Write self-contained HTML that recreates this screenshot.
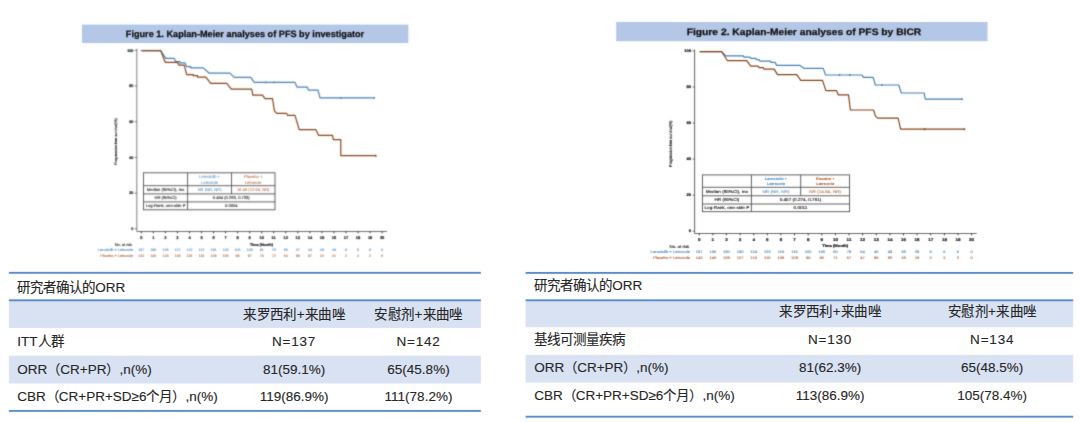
<!DOCTYPE html>
<html lang="zh-CN"><head><meta charset="utf-8"><title>PFS</title>
<style>
html,body{margin:0;padding:0;background:#fff;}
body{width:1080px;height:422px;position:relative;overflow:hidden;font-family:"Liberation Sans",sans-serif;}
svg{position:absolute;left:0;top:0;}
svg text{font-family:"Liberation Sans",sans-serif;text-rendering:geometricPrecision;}
.ln{position:absolute;height:1.8px;background:#5486c2;z-index:2;}
.bg{position:absolute;background:#d9e2f3;}
.t{position:absolute;height:20px;line-height:20px;font-size:13.5px;color:#262626;white-space:nowrap;-webkit-text-stroke:0.12px #262626;}
.t.c{width:160px;text-align:center;}
.t.h{letter-spacing:0.35px;}
.t.n{letter-spacing:0.8px;}
</style></head><body>
<svg width="1080" height="422" viewBox="0 0 1080 422">
<defs><filter id="bl" filterUnits="userSpaceOnUse" x="0" y="0" width="1080" height="422" color-interpolation-filters="sRGB"><feConvolveMatrix order="5" kernelMatrix="0.0000 0.0004 0.0017 0.0004 0.0000 0.0004 0.0274 0.1099 0.0274 0.0004 0.0017 0.1099 0.4407 0.1099 0.0017 0.0004 0.0274 0.1099 0.0274 0.0004 0.0000 0.0004 0.0017 0.0004 0.0000" preserveAlpha="false" edgeMode="none"/></filter><filter id="bl2" filterUnits="userSpaceOnUse" x="0" y="0" width="1080" height="422" color-interpolation-filters="sRGB"><feConvolveMatrix order="5" kernelMatrix="0.0000 0.0001 0.0007 0.0001 0.0000 0.0001 0.0191 0.0997 0.0191 0.0001 0.0007 0.0997 0.5208 0.0997 0.0007 0.0001 0.0191 0.0997 0.0191 0.0001 0.0000 0.0001 0.0007 0.0001 0.0000" preserveAlpha="false" edgeMode="none"/></filter><filter id="bl4" filterUnits="userSpaceOnUse" x="0" y="0" width="1080" height="422" color-interpolation-filters="sRGB"><feConvolveMatrix order="3" kernelMatrix="0.0052 0.0619 0.0052 0.0619 0.7314 0.0619 0.0052 0.0619 0.0052" preserveAlpha="false" edgeMode="none"/></filter><filter id="bl5" filterUnits="userSpaceOnUse" x="0" y="0" width="1080" height="422" color-interpolation-filters="sRGB"><feConvolveMatrix order="5" kernelMatrix="0.0000 0.0001 0.0007 0.0001 0.0000 0.0001 0.0191 0.0997 0.0191 0.0001 0.0007 0.0997 0.5208 0.0997 0.0007 0.0001 0.0191 0.0997 0.0191 0.0001 0.0000 0.0001 0.0007 0.0001 0.0000" preserveAlpha="false" edgeMode="none"/></filter></defs>
<g filter="url(#bl4)">
<rect x="8.9" y="300.30" width="472.0" height="27.70" fill="#d9e2f3"/><rect x="8.9" y="355.70" width="472.0" height="27.80" fill="#d9e2f3"/><rect x="8.9" y="271.90" width="472.0" height="1.8" fill="#4f82c0"/><rect x="8.9" y="299.40" width="472.0" height="1.8" fill="#4f82c0"/><rect x="8.9" y="410.00" width="472.0" height="1.8" fill="#4f82c0"/><rect x="525.6" y="300.30" width="547.6" height="26.90" fill="#d9e2f3"/><rect x="525.6" y="354.90" width="547.6" height="27.70" fill="#d9e2f3"/><rect x="525.6" y="272.00" width="547.6" height="1.8" fill="#4f82c0"/><rect x="525.6" y="299.40" width="547.6" height="1.8" fill="#4f82c0"/><rect x="525.6" y="415.80" width="547.6" height="1.8" fill="#4f82c0"/>
</g>
<g filter="url(#bl2)">
<rect x="82" y="24.6" width="326.4" height="18.5" fill="#b4c7e7"/>
<text x="245" y="36.5" font-size="9.2" font-weight="bold" text-anchor="middle" fill="#111" stroke="#111" stroke-width="0.25" textLength="238.4" lengthAdjust="spacingAndGlyphs">Figure 1. Kaplan-Meier analyses of PFS by investigator</text>
<rect x="616.2" y="22" width="371.3" height="19.2" fill="#b4c7e7"/>
<text x="804" y="34.6" font-size="9.3" font-weight="bold" text-anchor="middle" fill="#111" stroke="#111" stroke-width="0.25" textLength="234.6" lengthAdjust="spacingAndGlyphs">Figure 2. Kaplan-Meier analyses of PFS by BICR</text>
</g>
<g filter="url(#bl)">
<line x1="136.8" y1="48.8" x2="136.8" y2="231.5" stroke="#8a8a8a" stroke-width="1.1"/>
<line x1="136.8" y1="231.5" x2="387" y2="231.5" stroke="#6e6e6e" stroke-width="1.1"/>
<line x1="134.60000000000002" y1="50.3" x2="136.8" y2="50.3" stroke="#444" stroke-width="0.7"/>
<text transform="translate(133.4,51.6) scale(1.0,1)" font-size="3.7" text-anchor="end" fill="#222" stroke="#222" stroke-width="0.2" font-weight="bold">100</text>
<line x1="134.60000000000002" y1="86.0" x2="136.8" y2="86.0" stroke="#444" stroke-width="0.7"/>
<text transform="translate(133.4,87.3) scale(1.0,1)" font-size="3.7" text-anchor="end" fill="#222" stroke="#222" stroke-width="0.2" font-weight="bold">80</text>
<line x1="134.60000000000002" y1="121.7" x2="136.8" y2="121.7" stroke="#444" stroke-width="0.7"/>
<text transform="translate(133.4,123.0) scale(1.0,1)" font-size="3.7" text-anchor="end" fill="#222" stroke="#222" stroke-width="0.2" font-weight="bold">60</text>
<line x1="134.60000000000002" y1="157.4" x2="136.8" y2="157.4" stroke="#444" stroke-width="0.7"/>
<text transform="translate(133.4,158.7) scale(1.0,1)" font-size="3.7" text-anchor="end" fill="#222" stroke="#222" stroke-width="0.2" font-weight="bold">40</text>
<line x1="134.60000000000002" y1="193.1" x2="136.8" y2="193.1" stroke="#444" stroke-width="0.7"/>
<text transform="translate(133.4,194.4) scale(1.0,1)" font-size="3.7" text-anchor="end" fill="#222" stroke="#222" stroke-width="0.2" font-weight="bold">20</text>
<line x1="134.60000000000002" y1="228.8" x2="136.8" y2="228.8" stroke="#444" stroke-width="0.7"/>
<text transform="translate(133.4,230.1) scale(1.0,1)" font-size="3.7" text-anchor="end" fill="#222" stroke="#222" stroke-width="0.2" font-weight="bold">0</text>
<line x1="141.3" y1="231.5" x2="141.3" y2="233.3" stroke="#222" stroke-width="0.9"/>
<text transform="translate(141.3,238.9) scale(1.0,1)" font-size="4.0" text-anchor="middle" fill="#222" stroke="#222" stroke-width="0.2" font-weight="bold">0</text>
<text transform="translate(141.3,251.3) scale(1.0,1)" font-size="3.6" text-anchor="middle" fill="#4f88c0" stroke="#4f88c0" stroke-width="0.1">137</text>
<text transform="translate(141.3,256.6) scale(1.0,1)" font-size="3.6" text-anchor="middle" fill="#b0643a" stroke="#b0643a" stroke-width="0.1">142</text>
<line x1="153.3" y1="231.5" x2="153.3" y2="233.3" stroke="#222" stroke-width="0.9"/>
<text transform="translate(153.3,238.9) scale(1.0,1)" font-size="4.0" text-anchor="middle" fill="#222" stroke="#222" stroke-width="0.2" font-weight="bold">1</text>
<text transform="translate(153.3,251.3) scale(1.0,1)" font-size="3.6" text-anchor="middle" fill="#4f88c0" stroke="#4f88c0" stroke-width="0.1">136</text>
<text transform="translate(153.3,256.6) scale(1.0,1)" font-size="3.6" text-anchor="middle" fill="#b0643a" stroke="#b0643a" stroke-width="0.1">140</text>
<line x1="165.4" y1="231.5" x2="165.4" y2="233.3" stroke="#222" stroke-width="0.9"/>
<text transform="translate(165.4,238.9) scale(1.0,1)" font-size="4.0" text-anchor="middle" fill="#222" stroke="#222" stroke-width="0.2" font-weight="bold">2</text>
<text transform="translate(165.4,251.3) scale(1.0,1)" font-size="3.6" text-anchor="middle" fill="#4f88c0" stroke="#4f88c0" stroke-width="0.1">129</text>
<text transform="translate(165.4,256.6) scale(1.0,1)" font-size="3.6" text-anchor="middle" fill="#b0643a" stroke="#b0643a" stroke-width="0.1">129</text>
<line x1="177.4" y1="231.5" x2="177.4" y2="233.3" stroke="#222" stroke-width="0.9"/>
<text transform="translate(177.4,238.9) scale(1.0,1)" font-size="4.0" text-anchor="middle" fill="#222" stroke="#222" stroke-width="0.2" font-weight="bold">3</text>
<text transform="translate(177.4,251.3) scale(1.0,1)" font-size="3.6" text-anchor="middle" fill="#4f88c0" stroke="#4f88c0" stroke-width="0.1">127</text>
<text transform="translate(177.4,256.6) scale(1.0,1)" font-size="3.6" text-anchor="middle" fill="#b0643a" stroke="#b0643a" stroke-width="0.1">128</text>
<line x1="189.5" y1="231.5" x2="189.5" y2="233.3" stroke="#222" stroke-width="0.9"/>
<text transform="translate(189.5,238.9) scale(1.0,1)" font-size="4.0" text-anchor="middle" fill="#222" stroke="#222" stroke-width="0.2" font-weight="bold">4</text>
<text transform="translate(189.5,251.3) scale(1.0,1)" font-size="3.6" text-anchor="middle" fill="#4f88c0" stroke="#4f88c0" stroke-width="0.1">122</text>
<text transform="translate(189.5,256.6) scale(1.0,1)" font-size="3.6" text-anchor="middle" fill="#b0643a" stroke="#b0643a" stroke-width="0.1">116</text>
<line x1="201.5" y1="231.5" x2="201.5" y2="233.3" stroke="#222" stroke-width="0.9"/>
<text transform="translate(201.5,238.9) scale(1.0,1)" font-size="4.0" text-anchor="middle" fill="#222" stroke="#222" stroke-width="0.2" font-weight="bold">5</text>
<text transform="translate(201.5,251.3) scale(1.0,1)" font-size="3.6" text-anchor="middle" fill="#4f88c0" stroke="#4f88c0" stroke-width="0.1">121</text>
<text transform="translate(201.5,256.6) scale(1.0,1)" font-size="3.6" text-anchor="middle" fill="#b0643a" stroke="#b0643a" stroke-width="0.1">116</text>
<line x1="213.5" y1="231.5" x2="213.5" y2="233.3" stroke="#222" stroke-width="0.9"/>
<text transform="translate(213.5,238.9) scale(1.0,1)" font-size="4.0" text-anchor="middle" fill="#222" stroke="#222" stroke-width="0.2" font-weight="bold">6</text>
<text transform="translate(213.5,251.3) scale(1.0,1)" font-size="3.6" text-anchor="middle" fill="#4f88c0" stroke="#4f88c0" stroke-width="0.1">116</text>
<text transform="translate(213.5,256.6) scale(1.0,1)" font-size="3.6" text-anchor="middle" fill="#b0643a" stroke="#b0643a" stroke-width="0.1">109</text>
<line x1="225.6" y1="231.5" x2="225.6" y2="233.3" stroke="#222" stroke-width="0.9"/>
<text transform="translate(225.6,238.9) scale(1.0,1)" font-size="4.0" text-anchor="middle" fill="#222" stroke="#222" stroke-width="0.2" font-weight="bold">7</text>
<text transform="translate(225.6,251.3) scale(1.0,1)" font-size="3.6" text-anchor="middle" fill="#4f88c0" stroke="#4f88c0" stroke-width="0.1">116</text>
<text transform="translate(225.6,256.6) scale(1.0,1)" font-size="3.6" text-anchor="middle" fill="#b0643a" stroke="#b0643a" stroke-width="0.1">106</text>
<line x1="237.6" y1="231.5" x2="237.6" y2="233.3" stroke="#222" stroke-width="0.9"/>
<text transform="translate(237.6,238.9) scale(1.0,1)" font-size="4.0" text-anchor="middle" fill="#222" stroke="#222" stroke-width="0.2" font-weight="bold">8</text>
<text transform="translate(237.6,251.3) scale(1.0,1)" font-size="3.6" text-anchor="middle" fill="#4f88c0" stroke="#4f88c0" stroke-width="0.1">105</text>
<text transform="translate(237.6,256.6) scale(1.0,1)" font-size="3.6" text-anchor="middle" fill="#b0643a" stroke="#b0643a" stroke-width="0.1">98</text>
<line x1="249.7" y1="231.5" x2="249.7" y2="233.3" stroke="#222" stroke-width="0.9"/>
<text transform="translate(249.7,238.9) scale(1.0,1)" font-size="4.0" text-anchor="middle" fill="#222" stroke="#222" stroke-width="0.2" font-weight="bold">9</text>
<text transform="translate(249.7,251.3) scale(1.0,1)" font-size="3.6" text-anchor="middle" fill="#4f88c0" stroke="#4f88c0" stroke-width="0.1">100</text>
<text transform="translate(249.7,256.6) scale(1.0,1)" font-size="3.6" text-anchor="middle" fill="#b0643a" stroke="#b0643a" stroke-width="0.1">97</text>
<line x1="261.7" y1="231.5" x2="261.7" y2="233.3" stroke="#222" stroke-width="0.9"/>
<text transform="translate(261.7,238.9) scale(1.0,1)" font-size="4.0" text-anchor="middle" fill="#222" stroke="#222" stroke-width="0.2" font-weight="bold">10</text>
<text transform="translate(261.7,251.3) scale(1.0,1)" font-size="3.6" text-anchor="middle" fill="#4f88c0" stroke="#4f88c0" stroke-width="0.1">81</text>
<text transform="translate(261.7,256.6) scale(1.0,1)" font-size="3.6" text-anchor="middle" fill="#b0643a" stroke="#b0643a" stroke-width="0.1">76</text>
<line x1="273.7" y1="231.5" x2="273.7" y2="233.3" stroke="#222" stroke-width="0.9"/>
<text transform="translate(273.7,238.9) scale(1.0,1)" font-size="4.0" text-anchor="middle" fill="#222" stroke="#222" stroke-width="0.2" font-weight="bold">11</text>
<text transform="translate(273.7,251.3) scale(1.0,1)" font-size="3.6" text-anchor="middle" fill="#4f88c0" stroke="#4f88c0" stroke-width="0.1">79</text>
<text transform="translate(273.7,256.6) scale(1.0,1)" font-size="3.6" text-anchor="middle" fill="#b0643a" stroke="#b0643a" stroke-width="0.1">72</text>
<line x1="285.8" y1="231.5" x2="285.8" y2="233.3" stroke="#222" stroke-width="0.9"/>
<text transform="translate(285.8,238.9) scale(1.0,1)" font-size="4.0" text-anchor="middle" fill="#222" stroke="#222" stroke-width="0.2" font-weight="bold">12</text>
<text transform="translate(285.8,251.3) scale(1.0,1)" font-size="3.6" text-anchor="middle" fill="#4f88c0" stroke="#4f88c0" stroke-width="0.1">66</text>
<text transform="translate(285.8,256.6) scale(1.0,1)" font-size="3.6" text-anchor="middle" fill="#b0643a" stroke="#b0643a" stroke-width="0.1">54</text>
<line x1="297.8" y1="231.5" x2="297.8" y2="233.3" stroke="#222" stroke-width="0.9"/>
<text transform="translate(297.8,238.9) scale(1.0,1)" font-size="4.0" text-anchor="middle" fill="#222" stroke="#222" stroke-width="0.2" font-weight="bold">13</text>
<text transform="translate(297.8,251.3) scale(1.0,1)" font-size="3.6" text-anchor="middle" fill="#4f88c0" stroke="#4f88c0" stroke-width="0.1">47</text>
<text transform="translate(297.8,256.6) scale(1.0,1)" font-size="3.6" text-anchor="middle" fill="#b0643a" stroke="#b0643a" stroke-width="0.1">39</text>
<line x1="309.9" y1="231.5" x2="309.9" y2="233.3" stroke="#222" stroke-width="0.9"/>
<text transform="translate(309.9,238.9) scale(1.0,1)" font-size="4.0" text-anchor="middle" fill="#222" stroke="#222" stroke-width="0.2" font-weight="bold">14</text>
<text transform="translate(309.9,251.3) scale(1.0,1)" font-size="3.6" text-anchor="middle" fill="#4f88c0" stroke="#4f88c0" stroke-width="0.1">44</text>
<text transform="translate(309.9,256.6) scale(1.0,1)" font-size="3.6" text-anchor="middle" fill="#b0643a" stroke="#b0643a" stroke-width="0.1">37</text>
<line x1="321.9" y1="231.5" x2="321.9" y2="233.3" stroke="#222" stroke-width="0.9"/>
<text transform="translate(321.9,238.9) scale(1.0,1)" font-size="4.0" text-anchor="middle" fill="#222" stroke="#222" stroke-width="0.2" font-weight="bold">15</text>
<text transform="translate(321.9,251.3) scale(1.0,1)" font-size="3.6" text-anchor="middle" fill="#4f88c0" stroke="#4f88c0" stroke-width="0.1">28</text>
<text transform="translate(321.9,256.6) scale(1.0,1)" font-size="3.6" text-anchor="middle" fill="#b0643a" stroke="#b0643a" stroke-width="0.1">22</text>
<line x1="333.9" y1="231.5" x2="333.9" y2="233.3" stroke="#222" stroke-width="0.9"/>
<text transform="translate(333.9,238.9) scale(1.0,1)" font-size="4.0" text-anchor="middle" fill="#222" stroke="#222" stroke-width="0.2" font-weight="bold">16</text>
<text transform="translate(333.9,251.3) scale(1.0,1)" font-size="3.6" text-anchor="middle" fill="#4f88c0" stroke="#4f88c0" stroke-width="0.1">28</text>
<text transform="translate(333.9,256.6) scale(1.0,1)" font-size="3.6" text-anchor="middle" fill="#b0643a" stroke="#b0643a" stroke-width="0.1">21</text>
<line x1="346.0" y1="231.5" x2="346.0" y2="233.3" stroke="#222" stroke-width="0.9"/>
<text transform="translate(346.0,238.9) scale(1.0,1)" font-size="4.0" text-anchor="middle" fill="#222" stroke="#222" stroke-width="0.2" font-weight="bold">17</text>
<text transform="translate(346.0,251.3) scale(1.0,1)" font-size="3.6" text-anchor="middle" fill="#4f88c0" stroke="#4f88c0" stroke-width="0.1">6</text>
<text transform="translate(346.0,256.6) scale(1.0,1)" font-size="3.6" text-anchor="middle" fill="#b0643a" stroke="#b0643a" stroke-width="0.1">2</text>
<line x1="358.0" y1="231.5" x2="358.0" y2="233.3" stroke="#222" stroke-width="0.9"/>
<text transform="translate(358.0,238.9) scale(1.0,1)" font-size="4.0" text-anchor="middle" fill="#222" stroke="#222" stroke-width="0.2" font-weight="bold">18</text>
<text transform="translate(358.0,251.3) scale(1.0,1)" font-size="3.6" text-anchor="middle" fill="#4f88c0" stroke="#4f88c0" stroke-width="0.1">6</text>
<text transform="translate(358.0,256.6) scale(1.0,1)" font-size="3.6" text-anchor="middle" fill="#b0643a" stroke="#b0643a" stroke-width="0.1">2</text>
<line x1="370.1" y1="231.5" x2="370.1" y2="233.3" stroke="#222" stroke-width="0.9"/>
<text transform="translate(370.1,238.9) scale(1.0,1)" font-size="4.0" text-anchor="middle" fill="#222" stroke="#222" stroke-width="0.2" font-weight="bold">19</text>
<text transform="translate(370.1,251.3) scale(1.0,1)" font-size="3.6" text-anchor="middle" fill="#4f88c0" stroke="#4f88c0" stroke-width="0.1">6</text>
<text transform="translate(370.1,256.6) scale(1.0,1)" font-size="3.6" text-anchor="middle" fill="#b0643a" stroke="#b0643a" stroke-width="0.1">2</text>
<line x1="382.1" y1="231.5" x2="382.1" y2="233.3" stroke="#222" stroke-width="0.9"/>
<text transform="translate(382.1,238.9) scale(1.0,1)" font-size="4.0" text-anchor="middle" fill="#222" stroke="#222" stroke-width="0.2" font-weight="bold">20</text>
<text transform="translate(382.1,251.3) scale(1.0,1)" font-size="3.6" text-anchor="middle" fill="#4f88c0" stroke="#4f88c0" stroke-width="0.1">0</text>
<text transform="translate(382.1,256.6) scale(1.0,1)" font-size="3.6" text-anchor="middle" fill="#b0643a" stroke="#b0643a" stroke-width="0.1">0</text>
<text transform="translate(132.2,245.6) scale(1.0,1)" font-size="3.9000000000000004" text-anchor="end" fill="#222" stroke="#222" stroke-width="0.1">No. at risk</text>
<text transform="translate(133.0,251.3) scale(1.0,1)" font-size="3.7" text-anchor="end" fill="#4f88c0" stroke="#4f88c0" stroke-width="0.1">Lerociclib + Letrozole</text>
<text transform="translate(133.0,256.6) scale(1.0,1)" font-size="3.7" text-anchor="end" fill="#b0643a" stroke="#b0643a" stroke-width="0.1">Placebo + Letrozole</text>
<text transform="translate(261.5,245.5) scale(1.0,1)" font-size="3.7" text-anchor="middle" fill="#222" stroke="#222" stroke-width="0.2" font-weight="bold">Time (Month)</text>
<text transform="translate(117.2,141.6) rotate(-90) scale(1,1.0)" font-size="3.7" text-anchor="middle" fill="#222" stroke="#222" stroke-width="0.15">Progression-free survival(%)</text>
<polyline points="141.3,50.7 160.8,50.7 165.8,58.4 174.2,58.4 175.8,61.7 180.0,61.7 180.0,62.9 185.0,62.9 186.7,66.7 190.8,66.7 190.8,67.9 203.3,67.9 209.2,73.2 230.0,73.2 234.2,77.4 250.8,77.4 254.2,82.4 295.0,82.4 297.0,87.1 307.5,87.1 308.3,90.1 318.0,90.1 320.0,97.9 374.2,97.9" fill="none" stroke="#4880b4" stroke-width="1.18" stroke-linejoin="round"/>
<polyline points="141.3,50.7 160.8,50.7 165.0,61.7 165.5,62.4 177.5,62.4 179.0,65.1 184.2,65.1 186.7,74.6 193.3,74.6 193.3,75.7 197.5,75.7 197.5,77.1 205.8,77.1 210.8,83.4 226.7,83.4 231.3,89.1 251.7,89.1 252.8,95.1 262.5,95.1 265.0,98.7 272.5,98.7 274.5,111.2 276.7,113.4 286.7,113.4 287.5,115.4 295.0,115.4 299.2,129.6 315.8,129.6 318.7,135.4 332.5,135.4 333.3,139.6 340.8,139.6 340.8,155.7 375.8,155.7" fill="none" stroke="#864318" stroke-width="1.18" stroke-linejoin="round"/>
<circle cx="265.8" cy="82.4" r="0.95" fill="#4880b4"/>
<circle cx="274.2" cy="82.4" r="0.95" fill="#4880b4"/>
<circle cx="340.8" cy="97.9" r="0.95" fill="#4880b4"/>
<circle cx="374.2" cy="97.9" r="0.95" fill="#4880b4"/>
<circle cx="375.8" cy="155.70000000000002" r="0.95" fill="#864318"/>
<rect x="143.5" y="172.8" width="131.5" height="37.0" fill="#fff" stroke="#505050" stroke-width="0.9"/>
<line x1="143.5" y1="185.7" x2="275" y2="185.7" stroke="#505050" stroke-width="0.9"/>
<line x1="143.5" y1="193.9" x2="275" y2="193.9" stroke="#505050" stroke-width="0.9"/>
<line x1="143.5" y1="201.9" x2="275" y2="201.9" stroke="#505050" stroke-width="0.9"/>
<line x1="187.6" y1="172.8" x2="187.6" y2="209.8" stroke="#505050" stroke-width="0.9"/>
<line x1="231.5" y1="172.8" x2="231.5" y2="193.9" stroke="#505050" stroke-width="0.9"/>
<text transform="translate(209.6,178.1) scale(1.0,1)" font-size="4.1" text-anchor="middle" fill="#4f88c0" stroke="#4f88c0" stroke-width="0.04">Lerociclib +</text>
<text transform="translate(209.6,183.7) scale(1.0,1)" font-size="4.1" text-anchor="middle" fill="#4f88c0" stroke="#4f88c0" stroke-width="0.04">Letrozole</text>
<text transform="translate(253.2,178.1) scale(1.0,1)" font-size="4.1" text-anchor="middle" fill="#b0643a" stroke="#b0643a" stroke-width="0.04">Placebo +</text>
<text transform="translate(253.2,183.7) scale(1.0,1)" font-size="4.1" text-anchor="middle" fill="#b0643a" stroke="#b0643a" stroke-width="0.04">Letrozole</text>
<text transform="translate(165.6,191.3) scale(1.0,1)" font-size="4.1" text-anchor="middle" fill="#222" stroke="#222" stroke-width="0.1">Median (95%CI), mo</text>
<text transform="translate(209.6,191.3) scale(1.0,1)" font-size="4.1" text-anchor="middle" fill="#4f88c0" stroke="#4f88c0" stroke-width="0.04">NR (NR, NR)</text>
<text transform="translate(253.2,191.3) scale(1.0,1)" font-size="4.1" text-anchor="middle" fill="#b0643a" stroke="#b0643a" stroke-width="0.04">16.56 (12.94, NR)</text>
<text transform="translate(165.6,199.4) scale(1.0,1)" font-size="4.1" text-anchor="middle" fill="#222" stroke="#222" stroke-width="0.1">HR (95%CI)</text>
<text transform="translate(231.3,199.4) scale(1.0,1)" font-size="4.1" text-anchor="middle" fill="#222" stroke="#222" stroke-width="0.1">0.464 (0.293,  0.733)</text>
<text transform="translate(165.6,207.3) scale(1.0,1)" font-size="4.1" text-anchor="middle" fill="#222" stroke="#222" stroke-width="0.1">Log-Rank, one-side P</text>
<text transform="translate(231.3,207.3) scale(1.0,1)" font-size="4.1" text-anchor="middle" fill="#222" stroke="#222" stroke-width="0.1">0.0004</text>
</g>
<g filter="url(#bl5)">
<line x1="694.6" y1="49.5" x2="694.6" y2="233.5" stroke="#707070" stroke-width="1.1"/>
<line x1="694.6" y1="233.5" x2="976.8" y2="233.5" stroke="#6e6e6e" stroke-width="1.1"/>
<line x1="692.4" y1="51.0" x2="694.6" y2="51.0" stroke="#444" stroke-width="0.7"/>
<text transform="translate(691.2,52.3) scale(1.13,1)" font-size="3.7" text-anchor="end" fill="#222" stroke="#222" stroke-width="0.23" font-weight="bold">100</text>
<line x1="692.4" y1="87.0" x2="694.6" y2="87.0" stroke="#444" stroke-width="0.7"/>
<text transform="translate(691.2,88.4) scale(1.13,1)" font-size="3.7" text-anchor="end" fill="#222" stroke="#222" stroke-width="0.23" font-weight="bold">80</text>
<line x1="692.4" y1="123.0" x2="694.6" y2="123.0" stroke="#444" stroke-width="0.7"/>
<text transform="translate(691.2,124.4) scale(1.13,1)" font-size="3.7" text-anchor="end" fill="#222" stroke="#222" stroke-width="0.23" font-weight="bold">60</text>
<line x1="692.4" y1="159.1" x2="694.6" y2="159.1" stroke="#444" stroke-width="0.7"/>
<text transform="translate(691.2,160.4) scale(1.13,1)" font-size="3.7" text-anchor="end" fill="#222" stroke="#222" stroke-width="0.23" font-weight="bold">40</text>
<line x1="692.4" y1="195.1" x2="694.6" y2="195.1" stroke="#444" stroke-width="0.7"/>
<text transform="translate(691.2,196.4) scale(1.13,1)" font-size="3.7" text-anchor="end" fill="#222" stroke="#222" stroke-width="0.23" font-weight="bold">20</text>
<line x1="692.4" y1="231.1" x2="694.6" y2="231.1" stroke="#444" stroke-width="0.7"/>
<text transform="translate(691.2,232.4) scale(1.13,1)" font-size="3.7" text-anchor="end" fill="#222" stroke="#222" stroke-width="0.23" font-weight="bold">0</text>
<line x1="699.2" y1="233.5" x2="699.2" y2="235.3" stroke="#222" stroke-width="0.9"/>
<text transform="translate(699.2,241.0) scale(1.13,1)" font-size="4.0" text-anchor="middle" fill="#222" stroke="#222" stroke-width="0.23" font-weight="bold">0</text>
<text transform="translate(699.2,253.2) scale(1.13,1)" font-size="3.6" text-anchor="middle" fill="#4f88c0" stroke="#4f88c0" stroke-width="0.13">137</text>
<text transform="translate(699.2,258.9) scale(1.13,1)" font-size="3.6" text-anchor="middle" fill="#b0643a" stroke="#b0643a" stroke-width="0.13">142</text>
<line x1="712.8" y1="233.5" x2="712.8" y2="235.3" stroke="#222" stroke-width="0.9"/>
<text transform="translate(712.8,241.0) scale(1.13,1)" font-size="4.0" text-anchor="middle" fill="#222" stroke="#222" stroke-width="0.23" font-weight="bold">1</text>
<text transform="translate(712.8,253.2) scale(1.13,1)" font-size="3.6" text-anchor="middle" fill="#4f88c0" stroke="#4f88c0" stroke-width="0.13">136</text>
<text transform="translate(712.8,258.9) scale(1.13,1)" font-size="3.6" text-anchor="middle" fill="#b0643a" stroke="#b0643a" stroke-width="0.13">140</text>
<line x1="726.4" y1="233.5" x2="726.4" y2="235.3" stroke="#222" stroke-width="0.9"/>
<text transform="translate(726.4,241.0) scale(1.13,1)" font-size="4.0" text-anchor="middle" fill="#222" stroke="#222" stroke-width="0.23" font-weight="bold">2</text>
<text transform="translate(726.4,253.2) scale(1.13,1)" font-size="3.6" text-anchor="middle" fill="#4f88c0" stroke="#4f88c0" stroke-width="0.13">130</text>
<text transform="translate(726.4,258.9) scale(1.13,1)" font-size="3.6" text-anchor="middle" fill="#b0643a" stroke="#b0643a" stroke-width="0.13">128</text>
<line x1="740.1" y1="233.5" x2="740.1" y2="235.3" stroke="#222" stroke-width="0.9"/>
<text transform="translate(740.1,241.0) scale(1.13,1)" font-size="4.0" text-anchor="middle" fill="#222" stroke="#222" stroke-width="0.23" font-weight="bold">3</text>
<text transform="translate(740.1,253.2) scale(1.13,1)" font-size="3.6" text-anchor="middle" fill="#4f88c0" stroke="#4f88c0" stroke-width="0.13">130</text>
<text transform="translate(740.1,258.9) scale(1.13,1)" font-size="3.6" text-anchor="middle" fill="#b0643a" stroke="#b0643a" stroke-width="0.13">127</text>
<line x1="753.7" y1="233.5" x2="753.7" y2="235.3" stroke="#222" stroke-width="0.9"/>
<text transform="translate(753.7,241.0) scale(1.13,1)" font-size="4.0" text-anchor="middle" fill="#222" stroke="#222" stroke-width="0.23" font-weight="bold">4</text>
<text transform="translate(753.7,253.2) scale(1.13,1)" font-size="3.6" text-anchor="middle" fill="#4f88c0" stroke="#4f88c0" stroke-width="0.13">124</text>
<text transform="translate(753.7,258.9) scale(1.13,1)" font-size="3.6" text-anchor="middle" fill="#b0643a" stroke="#b0643a" stroke-width="0.13">119</text>
<line x1="767.3" y1="233.5" x2="767.3" y2="235.3" stroke="#222" stroke-width="0.9"/>
<text transform="translate(767.3,241.0) scale(1.13,1)" font-size="4.0" text-anchor="middle" fill="#222" stroke="#222" stroke-width="0.23" font-weight="bold">5</text>
<text transform="translate(767.3,253.2) scale(1.13,1)" font-size="3.6" text-anchor="middle" fill="#4f88c0" stroke="#4f88c0" stroke-width="0.13">122</text>
<text transform="translate(767.3,258.9) scale(1.13,1)" font-size="3.6" text-anchor="middle" fill="#b0643a" stroke="#b0643a" stroke-width="0.13">116</text>
<line x1="780.9" y1="233.5" x2="780.9" y2="235.3" stroke="#222" stroke-width="0.9"/>
<text transform="translate(780.9,241.0) scale(1.13,1)" font-size="4.0" text-anchor="middle" fill="#222" stroke="#222" stroke-width="0.23" font-weight="bold">6</text>
<text transform="translate(780.9,253.2) scale(1.13,1)" font-size="3.6" text-anchor="middle" fill="#4f88c0" stroke="#4f88c0" stroke-width="0.13">116</text>
<text transform="translate(780.9,258.9) scale(1.13,1)" font-size="3.6" text-anchor="middle" fill="#b0643a" stroke="#b0643a" stroke-width="0.13">109</text>
<line x1="794.5" y1="233.5" x2="794.5" y2="235.3" stroke="#222" stroke-width="0.9"/>
<text transform="translate(794.5,241.0) scale(1.13,1)" font-size="4.0" text-anchor="middle" fill="#222" stroke="#222" stroke-width="0.23" font-weight="bold">7</text>
<text transform="translate(794.5,253.2) scale(1.13,1)" font-size="3.6" text-anchor="middle" fill="#4f88c0" stroke="#4f88c0" stroke-width="0.13">116</text>
<text transform="translate(794.5,258.9) scale(1.13,1)" font-size="3.6" text-anchor="middle" fill="#b0643a" stroke="#b0643a" stroke-width="0.13">108</text>
<line x1="808.2" y1="233.5" x2="808.2" y2="235.3" stroke="#222" stroke-width="0.9"/>
<text transform="translate(808.2,241.0) scale(1.13,1)" font-size="4.0" text-anchor="middle" fill="#222" stroke="#222" stroke-width="0.23" font-weight="bold">8</text>
<text transform="translate(808.2,253.2) scale(1.13,1)" font-size="3.6" text-anchor="middle" fill="#4f88c0" stroke="#4f88c0" stroke-width="0.13">105</text>
<text transform="translate(808.2,258.9) scale(1.13,1)" font-size="3.6" text-anchor="middle" fill="#b0643a" stroke="#b0643a" stroke-width="0.13">96</text>
<line x1="821.8" y1="233.5" x2="821.8" y2="235.3" stroke="#222" stroke-width="0.9"/>
<text transform="translate(821.8,241.0) scale(1.13,1)" font-size="4.0" text-anchor="middle" fill="#222" stroke="#222" stroke-width="0.23" font-weight="bold">9</text>
<text transform="translate(821.8,253.2) scale(1.13,1)" font-size="3.6" text-anchor="middle" fill="#4f88c0" stroke="#4f88c0" stroke-width="0.13">105</text>
<text transform="translate(821.8,258.9) scale(1.13,1)" font-size="3.6" text-anchor="middle" fill="#b0643a" stroke="#b0643a" stroke-width="0.13">95</text>
<line x1="835.4" y1="233.5" x2="835.4" y2="235.3" stroke="#222" stroke-width="0.9"/>
<text transform="translate(835.4,241.0) scale(1.13,1)" font-size="4.0" text-anchor="middle" fill="#222" stroke="#222" stroke-width="0.23" font-weight="bold">10</text>
<text transform="translate(835.4,253.2) scale(1.13,1)" font-size="3.6" text-anchor="middle" fill="#4f88c0" stroke="#4f88c0" stroke-width="0.13">80</text>
<text transform="translate(835.4,258.9) scale(1.13,1)" font-size="3.6" text-anchor="middle" fill="#b0643a" stroke="#b0643a" stroke-width="0.13">71</text>
<line x1="849.0" y1="233.5" x2="849.0" y2="235.3" stroke="#222" stroke-width="0.9"/>
<text transform="translate(849.0,241.0) scale(1.13,1)" font-size="4.0" text-anchor="middle" fill="#222" stroke="#222" stroke-width="0.23" font-weight="bold">11</text>
<text transform="translate(849.0,253.2) scale(1.13,1)" font-size="3.6" text-anchor="middle" fill="#4f88c0" stroke="#4f88c0" stroke-width="0.13">78</text>
<text transform="translate(849.0,258.9) scale(1.13,1)" font-size="3.6" text-anchor="middle" fill="#b0643a" stroke="#b0643a" stroke-width="0.13">67</text>
<line x1="862.6" y1="233.5" x2="862.6" y2="235.3" stroke="#222" stroke-width="0.9"/>
<text transform="translate(862.6,241.0) scale(1.13,1)" font-size="4.0" text-anchor="middle" fill="#222" stroke="#222" stroke-width="0.23" font-weight="bold">12</text>
<text transform="translate(862.6,253.2) scale(1.13,1)" font-size="3.6" text-anchor="middle" fill="#4f88c0" stroke="#4f88c0" stroke-width="0.13">64</text>
<text transform="translate(862.6,258.9) scale(1.13,1)" font-size="3.6" text-anchor="middle" fill="#b0643a" stroke="#b0643a" stroke-width="0.13">47</text>
<line x1="876.3" y1="233.5" x2="876.3" y2="235.3" stroke="#222" stroke-width="0.9"/>
<text transform="translate(876.3,241.0) scale(1.13,1)" font-size="4.0" text-anchor="middle" fill="#222" stroke="#222" stroke-width="0.23" font-weight="bold">13</text>
<text transform="translate(876.3,253.2) scale(1.13,1)" font-size="3.6" text-anchor="middle" fill="#4f88c0" stroke="#4f88c0" stroke-width="0.13">45</text>
<text transform="translate(876.3,258.9) scale(1.13,1)" font-size="3.6" text-anchor="middle" fill="#b0643a" stroke="#b0643a" stroke-width="0.13">36</text>
<line x1="889.9" y1="233.5" x2="889.9" y2="235.3" stroke="#222" stroke-width="0.9"/>
<text transform="translate(889.9,241.0) scale(1.13,1)" font-size="4.0" text-anchor="middle" fill="#222" stroke="#222" stroke-width="0.23" font-weight="bold">14</text>
<text transform="translate(889.9,253.2) scale(1.13,1)" font-size="3.6" text-anchor="middle" fill="#4f88c0" stroke="#4f88c0" stroke-width="0.13">43</text>
<text transform="translate(889.9,258.9) scale(1.13,1)" font-size="3.6" text-anchor="middle" fill="#b0643a" stroke="#b0643a" stroke-width="0.13">35</text>
<line x1="903.5" y1="233.5" x2="903.5" y2="235.3" stroke="#222" stroke-width="0.9"/>
<text transform="translate(903.5,241.0) scale(1.13,1)" font-size="4.0" text-anchor="middle" fill="#222" stroke="#222" stroke-width="0.23" font-weight="bold">15</text>
<text transform="translate(903.5,253.2) scale(1.13,1)" font-size="3.6" text-anchor="middle" fill="#4f88c0" stroke="#4f88c0" stroke-width="0.13">28</text>
<text transform="translate(903.5,258.9) scale(1.13,1)" font-size="3.6" text-anchor="middle" fill="#b0643a" stroke="#b0643a" stroke-width="0.13">18</text>
<line x1="917.1" y1="233.5" x2="917.1" y2="235.3" stroke="#222" stroke-width="0.9"/>
<text transform="translate(917.1,241.0) scale(1.13,1)" font-size="4.0" text-anchor="middle" fill="#222" stroke="#222" stroke-width="0.23" font-weight="bold">16</text>
<text transform="translate(917.1,253.2) scale(1.13,1)" font-size="3.6" text-anchor="middle" fill="#4f88c0" stroke="#4f88c0" stroke-width="0.13">28</text>
<text transform="translate(917.1,258.9) scale(1.13,1)" font-size="3.6" text-anchor="middle" fill="#b0643a" stroke="#b0643a" stroke-width="0.13">18</text>
<line x1="930.7" y1="233.5" x2="930.7" y2="235.3" stroke="#222" stroke-width="0.9"/>
<text transform="translate(930.7,241.0) scale(1.13,1)" font-size="4.0" text-anchor="middle" fill="#222" stroke="#222" stroke-width="0.23" font-weight="bold">17</text>
<text transform="translate(930.7,253.2) scale(1.13,1)" font-size="3.6" text-anchor="middle" fill="#4f88c0" stroke="#4f88c0" stroke-width="0.13">6</text>
<text transform="translate(930.7,258.9) scale(1.13,1)" font-size="3.6" text-anchor="middle" fill="#b0643a" stroke="#b0643a" stroke-width="0.13">2</text>
<line x1="944.4" y1="233.5" x2="944.4" y2="235.3" stroke="#222" stroke-width="0.9"/>
<text transform="translate(944.4,241.0) scale(1.13,1)" font-size="4.0" text-anchor="middle" fill="#222" stroke="#222" stroke-width="0.23" font-weight="bold">18</text>
<text transform="translate(944.4,253.2) scale(1.13,1)" font-size="3.6" text-anchor="middle" fill="#4f88c0" stroke="#4f88c0" stroke-width="0.13">6</text>
<text transform="translate(944.4,258.9) scale(1.13,1)" font-size="3.6" text-anchor="middle" fill="#b0643a" stroke="#b0643a" stroke-width="0.13">2</text>
<line x1="958.0" y1="233.5" x2="958.0" y2="235.3" stroke="#222" stroke-width="0.9"/>
<text transform="translate(958.0,241.0) scale(1.13,1)" font-size="4.0" text-anchor="middle" fill="#222" stroke="#222" stroke-width="0.23" font-weight="bold">19</text>
<text transform="translate(958.0,253.2) scale(1.13,1)" font-size="3.6" text-anchor="middle" fill="#4f88c0" stroke="#4f88c0" stroke-width="0.13">6</text>
<text transform="translate(958.0,258.9) scale(1.13,1)" font-size="3.6" text-anchor="middle" fill="#b0643a" stroke="#b0643a" stroke-width="0.13">2</text>
<line x1="971.6" y1="233.5" x2="971.6" y2="235.3" stroke="#222" stroke-width="0.9"/>
<text transform="translate(971.6,241.0) scale(1.13,1)" font-size="4.0" text-anchor="middle" fill="#222" stroke="#222" stroke-width="0.23" font-weight="bold">20</text>
<text transform="translate(971.6,253.2) scale(1.13,1)" font-size="3.6" text-anchor="middle" fill="#4f88c0" stroke="#4f88c0" stroke-width="0.13">0</text>
<text transform="translate(971.6,258.9) scale(1.13,1)" font-size="3.6" text-anchor="middle" fill="#b0643a" stroke="#b0643a" stroke-width="0.13">0</text>
<text transform="translate(689.3,247.5) scale(1.13,1)" font-size="3.9000000000000004" text-anchor="end" fill="#222" stroke="#222" stroke-width="0.13">No. at risk</text>
<text transform="translate(690.1,253.2) scale(1.13,1)" font-size="3.7" text-anchor="end" fill="#4f88c0" stroke="#4f88c0" stroke-width="0.13">Lerociclib + Letrozole</text>
<text transform="translate(690.1,258.9) scale(1.13,1)" font-size="3.7" text-anchor="end" fill="#b0643a" stroke="#b0643a" stroke-width="0.13">Placebo + Letrozole</text>
<text transform="translate(835.2,247.4) scale(1.13,1)" font-size="3.7" text-anchor="middle" fill="#222" stroke="#222" stroke-width="0.23" font-weight="bold">Time (Month)</text>
<text transform="translate(672,143.7) rotate(-90) scale(1,1.13)" font-size="3.7" text-anchor="middle" fill="#222" stroke="#222" stroke-width="0.15">Progression-free survival(%)</text>
<polyline points="699.7,51.7 721.7,51.7 725.8,55.9 743.3,55.9 744.0,57.1 750.0,57.1 750.5,58.4 755.8,58.4 756.5,59.6 759.0,59.6 760.0,61.2 770.8,61.2 771.0,62.4 775.0,62.4 776.7,65.4 800.0,65.4 804.2,68.4 823.3,68.4 825.5,75.0 862.1,75.0 863.4,77.4 873.1,77.4 875.4,85.0 898.7,85.0 901.3,93.0 924.2,93.0 925.2,99.2 962.1,99.2" fill="none" stroke="#4880b4" stroke-width="1.18" stroke-linejoin="round"/>
<polyline points="699.7,51.7 721.7,51.7 727.5,60.7 746.7,60.7 750.8,66.2 758.3,66.2 759.0,67.6 763.3,67.6 764.0,69.1 774.2,69.1 777.5,74.6 796.7,74.6 800.8,80.4 822.5,80.4 825.8,90.4 827.0,90.7 836.5,90.7 838.4,94.9 848.5,94.9 850.4,110.0 873.5,110.0 875.4,115.9 877.6,118.2 898.1,118.2 900.6,129.2 964.4,129.2" fill="none" stroke="#864318" stroke-width="1.18" stroke-linejoin="round"/>
<circle cx="839.4" cy="75.0" r="0.95" fill="#4880b4"/>
<circle cx="849.8" cy="75.0" r="0.95" fill="#4880b4"/>
<circle cx="882" cy="85.0" r="0.95" fill="#4880b4"/>
<circle cx="962.1" cy="99.2" r="0.95" fill="#4880b4"/>
<circle cx="924.6" cy="129.20000000000002" r="0.95" fill="#864318"/>
<circle cx="964.4" cy="129.20000000000002" r="0.95" fill="#864318"/>
<rect x="702.4" y="174.9" width="147.20000000000005" height="36.79999999999998" fill="#fff" stroke="#505050" stroke-width="0.9"/>
<line x1="702.4" y1="187.3" x2="849.6" y2="187.3" stroke="#505050" stroke-width="0.9"/>
<line x1="702.4" y1="195.8" x2="849.6" y2="195.8" stroke="#505050" stroke-width="0.9"/>
<line x1="702.4" y1="204.0" x2="849.6" y2="204.0" stroke="#505050" stroke-width="0.9"/>
<line x1="751.4" y1="174.9" x2="751.4" y2="211.7" stroke="#505050" stroke-width="0.9"/>
<line x1="800.7" y1="174.9" x2="800.7" y2="195.8" stroke="#505050" stroke-width="0.9"/>
<text transform="translate(776.0,179.9) scale(1.13,1)" font-size="3.55" text-anchor="middle" fill="#4f88c0" stroke="#4f88c0" stroke-width="0.07" font-weight="bold">Lerociclib +</text>
<text transform="translate(776.0,185.2) scale(1.13,1)" font-size="3.55" text-anchor="middle" fill="#4f88c0" stroke="#4f88c0" stroke-width="0.07" font-weight="bold">Letrozole</text>
<text transform="translate(825.2,179.9) scale(1.13,1)" font-size="3.55" text-anchor="middle" fill="#b0643a" stroke="#b0643a" stroke-width="0.07" font-weight="bold">Placebo +</text>
<text transform="translate(825.2,185.2) scale(1.13,1)" font-size="3.55" text-anchor="middle" fill="#b0643a" stroke="#b0643a" stroke-width="0.07" font-weight="bold">Letrozole</text>
<text transform="translate(726.9,193.0) scale(1.13,1)" font-size="4.1" text-anchor="middle" fill="#222" stroke="#222" stroke-width="0.13">Median (95%CI), mo</text>
<text transform="translate(776.0,193.0) scale(1.13,1)" font-size="4.1" text-anchor="middle" fill="#4f88c0" stroke="#4f88c0" stroke-width="0.07">NR (NR, NR)</text>
<text transform="translate(825.2,193.0) scale(1.13,1)" font-size="4.1" text-anchor="middle" fill="#b0643a" stroke="#b0643a" stroke-width="0.07">NR (14.65,   NR)</text>
<text transform="translate(726.9,201.4) scale(1.13,1)" font-size="4.1" text-anchor="middle" fill="#222" stroke="#222" stroke-width="0.13">HR (95%CI)</text>
<text transform="translate(800.5,201.4) scale(1.13,1)" font-size="4.1" text-anchor="middle" fill="#222" stroke="#222" stroke-width="0.13">0.457 (0.274,  0.761)</text>
<text transform="translate(726.9,209.3) scale(1.13,1)" font-size="4.1" text-anchor="middle" fill="#222" stroke="#222" stroke-width="0.13">Log-Rank, one-side P</text>
<text transform="translate(800.5,209.3) scale(1.13,1)" font-size="4.1" text-anchor="middle" fill="#222" stroke="#222" stroke-width="0.13">0.0011</text>
</g>
</svg>
<div class="t" style="left:17.3px;top:277.6px">研究者确认的ORR</div>
<div class="t c h" style="left:214.10000000000002px;top:304.9px">来罗西利+来曲唑</div>
<div class="t c h" style="left:338.5px;top:304.9px">安慰剂+来曲唑</div>
<div class="t" style="left:17.3px;top:331.9px">ITT人群</div>
<div class="t c n" style="left:214.10000000000002px;top:331.9px">N=137</div>
<div class="t c n" style="left:338.5px;top:331.9px">N=142</div>
<div class="t" style="left:17.3px;top:360.3px">ORR（CR+PR）,n(%)</div>
<div class="t c" style="left:214.10000000000002px;top:360.3px">81(59.1%)</div>
<div class="t c" style="left:338.5px;top:360.3px">65(45.8%)</div>
<div class="t" style="left:17.3px;top:386.8px">CBR（CR+PR+SD≥6个月）,n(%)</div>
<div class="t c" style="left:214.10000000000002px;top:386.8px">119(86.9%)</div>
<div class="t c" style="left:338.5px;top:386.8px">111(78.2%)</div>
<div class="t" style="left:534.2px;top:275.9px">研究者确认的ORR</div>
<div class="t c h" style="left:750.1px;top:302.4px">来罗西利+来曲唑</div>
<div class="t c h" style="left:912.2px;top:302.4px">安慰剂+来曲唑</div>
<div class="t" style="left:534.2px;top:330.1px">基线可测量疾病</div>
<div class="t c n" style="left:750.1px;top:330.1px">N=130</div>
<div class="t c n" style="left:912.2px;top:330.1px">N=134</div>
<div class="t" style="left:534.2px;top:358.2px">ORR（CR+PR）,n(%)</div>
<div class="t c" style="left:750.1px;top:358.2px">81(62.3%)</div>
<div class="t c" style="left:912.2px;top:358.2px">65(48.5%)</div>
<div class="t" style="left:534.2px;top:385.5px">CBR（CR+PR+SD≥6个月）,n(%)</div>
<div class="t c" style="left:750.1px;top:385.5px">113(86.9%)</div>
<div class="t c" style="left:912.2px;top:385.5px">105(78.4%)</div>
</body></html>
